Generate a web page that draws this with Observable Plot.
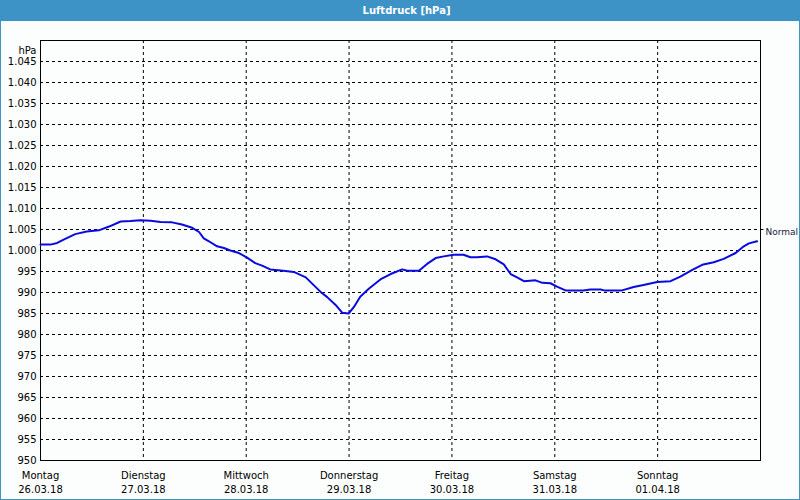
<!DOCTYPE html>
<html><head><meta charset="utf-8">
<script src="https://cdn.jsdelivr.net/npm/d3@7"></script>
<script src="https://cdn.jsdelivr.net/npm/@observablehq/plot@0.6"></script>
<style>
html,body{margin:0;padding:0;background:#fff;}
#wrap{position:relative;width:800px;height:500px;background:#fbfefd;overflow:hidden;font-family:"DejaVu Sans",sans-serif;}
#title{height:21px;background:#3d93c5;color:#fff;font-weight:bold;font-size:10px;line-height:21px;text-align:center;padding-left:13px;}
#chart svg{display:block;}
#border{position:absolute;left:0;top:0;width:800px;height:500px;box-sizing:border-box;border:1px solid #3d93c5;border-top:none;pointer-events:none;}
</style></head><body>
<div id="wrap"><div id="title"></div><div id="chart"></div><div id="border"></div></div>
<script>
const titleText = "Luftdruck [hPa]";
const dayNames = ["Montag","Dienstag","Mittwoch","Donnerstag","Freitag","Samstag","Sonntag"];
const dayDates = ["26.03.18","27.03.18","28.03.18","29.03.18","30.03.18","31.03.18","01.04.18"];
const yTicks = [950,955,960,965,970,975,980,985,990,995,1000,1005,1010,1015,1020,1025,1030,1035,1040,1045];
const yUnit = "hPa";
const normalLabel = "Normal";
const normalValue = 1005;
// hours since Monday 26.03.18 00:00
const hours = [0,2.3,3.9,5.4,8.1,10.8,13.6,16.0,18.7,21.0,23.3,25.7,28.0,30.7,33.0,35.4,37.0,38.1,39.3,41.2,42.8,44.3,46.3,48.2,50.1,51.7,53.6,56.7,59.1,61.9,63.8,65.3,66.9,68.8,70.4,71.9,73.1,74.6,76.6,79.3,81.7,84.4,85.6,88.3,90.2,92.2,94.1,96.4,98.7,100.3,101.8,104.2,106.2,108.1,109.7,111.2,112.8,115.5,117.1,119.0,120.5,122.5,126.7,128.3,130.7,131.5,135.7,138.4,140.7,143.9,147.0,149.3,152.1,154.4,157.1,159.4,162.2,164.1,165.3,167.2];
const pressure = [1001.4,1001.4,1001.8,1002.6,1003.9,1004.5,1004.8,1005.7,1006.9,1007.0,1007.2,1007.1,1006.8,1006.7,1006.2,1005.4,1004.4,1002.9,1002.2,1001.0,1000.6,1000.0,999.4,998.3,997.0,996.4,995.5,995.2,994.9,993.6,991.7,990.2,988.9,987.1,985.2,985.0,986.5,989.0,990.9,993.1,994.4,995.5,995.2,995.2,996.8,998.2,998.6,999.0,999.0,998.4,998.4,998.6,997.9,996.7,994.4,993.6,992.7,992.9,992.3,992.2,991.4,990.5,990.5,990.7,990.7,990.5,990.5,991.3,991.8,992.5,992.7,993.8,995.4,996.6,997.2,998.0,999.4,1001.0,1001.7,1002.2];

document.getElementById("title").textContent = titleText;
const parseDay = d3.utcParse("%d.%m.%y");
const dayTicks = dayDates.map(parseDay);
const t0 = dayTicks[0];
const tEnd = d3.utcDay.offset(t0, 7);
const labelMap = new Map(dayTicks.map((d,i)=>[+d, dayNames[i] + "\n" + dayDates[i]]));
const fmtDE = d3.formatLocale({decimal:",", thousands:".", grouping:[3], currency:["","€"]}).format(",d");
const data = hours.map((h,i)=>({t:new Date(+t0 + h*3600e3), p:pressure[i]}));

const chart = Plot.plot({
  width: 800, height: 479,
  marginTop: 19, marginBottom: 40, marginLeft: 40, marginRight: 40,
  style: {background:"transparent", fontFamily:"DejaVu Sans, sans-serif", fontSize:"10px", color:"#000", overflow:"visible"},
  x: {type:"utc", domain:[t0, tEnd]},
  y: {domain:[950, 1050]},
  marks: [
    Plot.gridY(yTicks.slice(1), {stroke:"#000", strokeOpacity:1, strokeDasharray:"3,3"}),
    Plot.gridX(dayTicks.slice(1), {stroke:"#000", strokeOpacity:1, strokeDasharray:"3,3"}),
    Plot.frame({stroke:"#000"}),
    Plot.axisY(yTicks, {tickSize:0, tickPadding:4, tickFormat:fmtDE, label:null, fill:"#000"}),
    Plot.axisX(dayTicks, {tickSize:0, tickPadding:9, tickFormat:d=>labelMap.get(+d), lineHeight:1.4, label:null, fill:"#000"}),
    Plot.line(data, {x:"t", y:"p", stroke:"#0a0ae0", strokeWidth:2, strokeLinejoin:"round"}),
    Plot.text([yUnit], {frameAnchor:"top-left", dx:-4, dy:6, textAnchor:"end", fill:"#000"}),
    Plot.ruleY([normalValue], {x1:tEnd, x2:new Date(+tEnd + 0.8*3600e3), stroke:"#000", clip:false}),
    Plot.text([normalLabel], {x:()=>tEnd, y:()=>normalValue, dx:5, dy:3, fontSize:9, textAnchor:"start", fill:"#1a1a40", clip:false})
  ]
});
document.getElementById("chart").appendChild(chart);
</script>
</body></html>
